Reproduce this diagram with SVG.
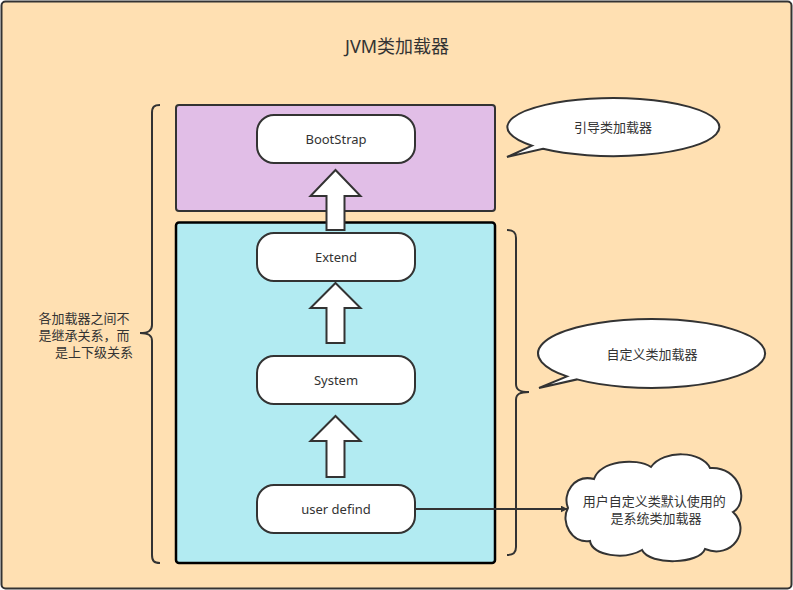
<svg xmlns="http://www.w3.org/2000/svg" width="793" height="590" viewBox="0 0 793 590">
  <defs>
    <style>
      .txt { font-family: "Noto Sans", "Noto Sans CJK SC", sans-serif; font-size: 13px; fill: #333333; }
      .node { fill: #ffffff; stroke: #333333; stroke-width: 2; }
      .blk { fill: #ffffff; stroke: #333333; stroke-width: 2; stroke-linejoin: miter; }
      .brace { fill: none; stroke: #333333; stroke-width: 2; }
      .bubble { fill: #ffffff; stroke: #333333; stroke-width: 2; stroke-linejoin: miter; }
    </style>
    <marker id="arrowHead" viewBox="0 0 10 10" refX="9" refY="5" markerWidth="7" markerHeight="7" markerUnits="userSpaceOnUse" orient="auto">
      <path d="M0,0 L10,5 L0,10 Z" fill="#333333"/>
    </marker>
  </defs>

  <!-- background frame -->
  <rect x="1.5" y="1.5" width="790" height="587" rx="4" fill="#FFE0B2" stroke="#333333" stroke-width="2"/>
  <text class="txt" x="397" y="46" text-anchor="middle" dominant-baseline="central" style="font-size:18px">JVM类加载器</text>

  <!-- containers -->
  <g id="bootstrap-area">
    <rect x="176" y="105" width="319" height="106" rx="3" fill="#E1BEE7" stroke="#333333" stroke-width="2"/>
  </g>
  <g id="custom-area">
    <rect x="176" y="222.5" width="319" height="340.5" rx="3" fill="#B2EBF2" stroke="#000000" stroke-width="2.5"/>
  </g>

  <!-- loader nodes -->
  <g id="node-bootstrap">
    <rect class="node" x="257" y="115" width="158" height="48" rx="17"/>
    <text class="txt" x="336" y="139" text-anchor="middle" dominant-baseline="central">BootStrap</text>
  </g>
  <g id="node-extend">
    <rect class="node" x="257" y="233" width="158" height="48" rx="17"/>
    <text class="txt" x="336" y="257" text-anchor="middle" dominant-baseline="central">Extend</text>
  </g>
  <g id="node-system">
    <rect class="node" x="257" y="356" width="158" height="48" rx="17"/>
    <text class="txt" x="336" y="380" text-anchor="middle" dominant-baseline="central">System</text>
  </g>
  <g id="node-user">
    <rect class="node" x="257" y="485" width="158" height="48" rx="17"/>
    <text class="txt" x="336" y="509" text-anchor="middle" dominant-baseline="central">user defind</text>
  </g>

  <!-- block arrows and connectors -->
  <g id="connectors">
    <path class="blk" d="M335.5,170 L360.5,196 L344.5,196 L344.5,230 L326.5,230 L326.5,196 L310.5,196 Z"/>
    <path class="blk" d="M335.5,283 L360.5,308 L344.5,308 L344.5,343 L326.5,343 L326.5,308 L310.5,308 Z"/>
    <path class="blk" d="M335.5,416 L360.5,441 L344.5,441 L344.5,477 L326.5,477 L326.5,441 L310.5,441 Z"/>
    <line x1="415" y1="509" x2="567" y2="509" stroke="#333333" stroke-width="2" marker-end="url(#arrowHead)"/>
  </g>

  <!-- braces -->
  <g id="brace-left">
    <path class="brace" d="M160,105 C154,105 152,107 152,113 L152,325 C152,331 148,333 140,333 C148,333 152,335 152,341 L152,555 C152,561 154,563 160,563"/>
    <text class="txt" text-anchor="end" dominant-baseline="central">
      <tspan x="133" y="318">各加载器之间不</tspan>
      <tspan x="133" y="335">是继承关系，而</tspan>
      <tspan x="133" y="352">是上下级关系</tspan>
    </text>
  </g>
  <g id="brace-right">
    <path class="brace" d="M507,230 C513,230 516,232 516,238 L516,384 C516,390 520,392 529,392 C520,392 516,394 516,400 L516,547 C516,553 513,555 507,555"/>
  </g>

  <!-- callouts -->
  <g id="callout-bootstrap">
    <path class="bubble" d="M532,145.7 L507,157 L543,148.8 A106,29 0 1 0 532,145.7 Z"/>
    <text class="txt" x="613" y="127" text-anchor="middle" dominant-baseline="central">引导类加载器</text>
  </g>
  <g id="callout-custom">
    <path class="bubble" d="M567,376.4 L539,388 L577,379.4 A113.5,34.5 0 1 0 567,376.4 Z"/>
    <text class="txt" x="652" y="354" text-anchor="middle" dominant-baseline="central">自定义类加载器</text>
  </g>
  <g id="cloud-note">
    <path class="bubble" d="M568,508 C562,494 574,474 594,479 C600,461 636,457 651,467 C664,449 702,451 710,468 C740,466 750,502 733,512 C752,530 732,560 705,549 C700,564 650,566 642,550 C625,560 592,556 590,541 C572,544 560,522 568,508 Z"/>
    <text class="txt" text-anchor="middle" dominant-baseline="central">
      <tspan x="656" y="501">用户自定义类默认使用的</tspan>
      <tspan x="656" y="518">是系统类加载器</tspan>
    </text>
  </g>
</svg>
